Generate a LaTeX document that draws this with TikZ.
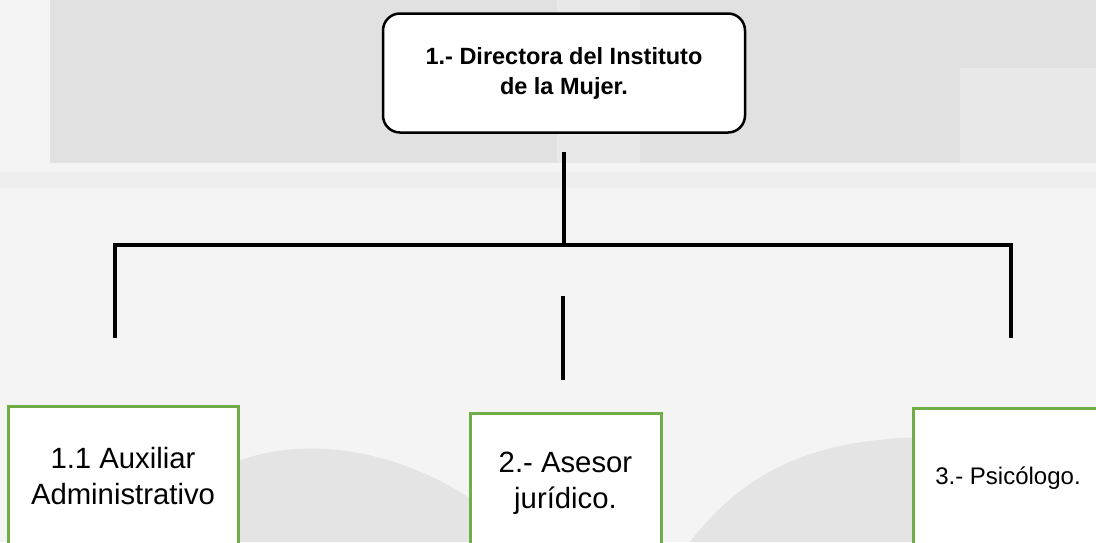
\documentclass[tikz,border=0pt]{standalone}
\usepackage{fontspec}
\setmainfont{Liberation Sans}
\definecolor{boxgreen}{HTML}{70AD47}
\definecolor{bgmain}{HTML}{F4F4F4}
\definecolor{bgtop}{HTML}{E1E1E1}
\definecolor{bgtoplight}{HTML}{E8E8E8}
\definecolor{bgarch}{HTML}{E4E4E4}
\definecolor{bgband}{HTML}{EEEEEE}
\tikzset{
  topbox/.style={draw=black, line width=2.5pt, fill=white, rounded corners=17pt,
    minimum width=362pt, minimum height=119pt, align=center, inner sep=0pt,
    font=\fontsize{23.5}{30}\selectfont\bfseries},
  greenbox/.style={draw=boxgreen, line width=3pt, fill=white, anchor=north,
    minimum height=140pt, align=center, inner sep=0pt,
    font=\fontsize{29.3}{36}\selectfont},
  conn/.style={line width=3.5pt, line join=miter}
}
\begin{document}
\begin{tikzpicture}[x=1pt,y=-1pt]
\useasboundingbox (0,0) rectangle (1096,542);
\clip (0,0) rectangle (1096,542);
% background
\fill[bgmain] (0,0) rectangle (1096,542);
\fill[bgtop] (50,0) rectangle (1096,163);
\fill[bgtoplight] (557,0) rectangle (640,163);
\fill[bgtoplight] (960,68) rectangle (1096,163);
\fill[bgband] (0,172) rectangle (1096,188);
\fill[bgarch] (150,542) .. controls (200,430) and (360,420) .. (480,505) -- (480,542) -- cycle;
\fill[bgarch] (690,542) .. controls (760,450) and (850,435) .. (960,437) -- (960,542) -- cycle;
% nodes
\node[topbox] (dir) at (564,73) {1.- Directora del Instituto\\de la Mujer.};
\node[greenbox, minimum width=230pt] (aux) at (123,405) {1.1 Auxiliar\\Administrativo};
\node[greenbox, minimum width=191pt] (ase) at (565.5,412) {2.- Asesor\\jurídico.};
\node[greenbox, minimum width=190pt, font=\fontsize{24}{28}\selectfont] (psi) at (1008,407) {3.- Psicólogo.};
% connector points
\coordinate (vtop) at (564,152);
\coordinate (hjoin) at (564,245);
\coordinate (hl) at (115,245);
\coordinate (hr) at (1011,245);
\coordinate (ldown) at (115,338);
\coordinate (rdown) at (1011,338);
\coordinate (m1) at (563,296);
\coordinate (m2) at (563,380);
% connectors
\draw[conn] (vtop) -- (hjoin);
\draw[conn] (ldown) -- (hl) -- (hr) -- (rdown);
\draw[conn] (m1) -- (m2);
\end{tikzpicture}
\end{document}
